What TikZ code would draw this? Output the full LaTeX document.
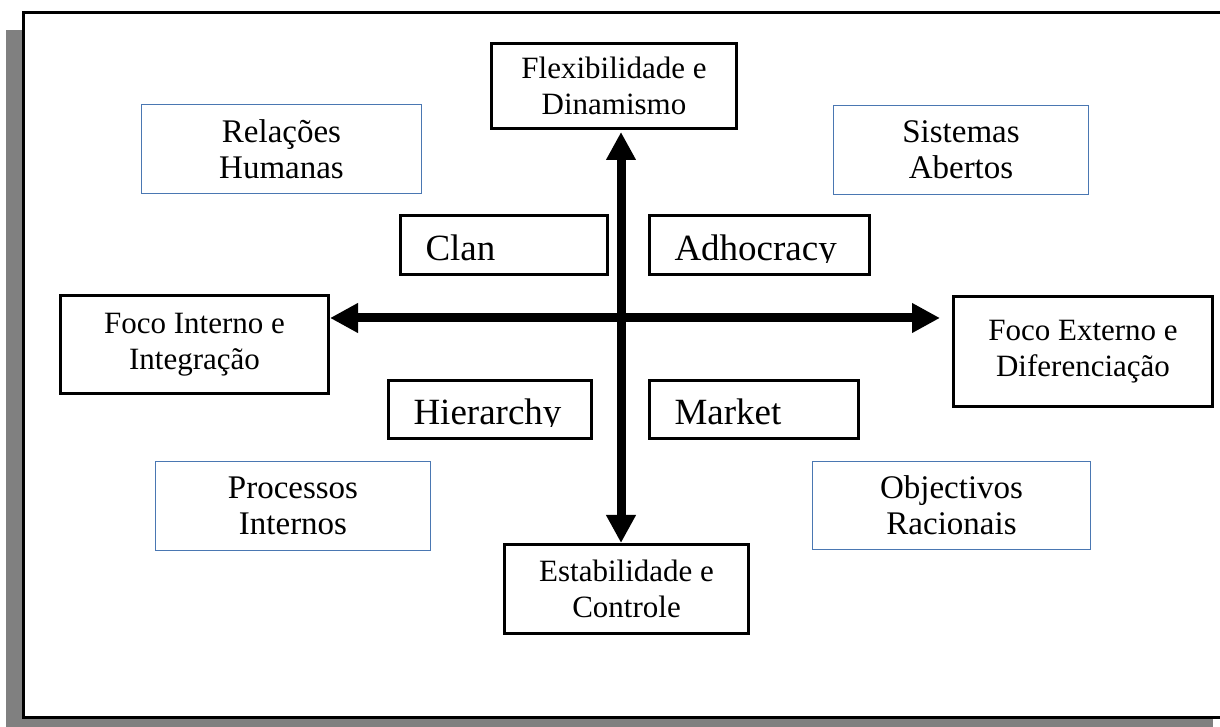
\documentclass[tikz,border=0pt]{standalone}
\usepackage{fontspec}
\setmainfont{Liberation Serif}
\usetikzlibrary{arrows.meta}

\definecolor{frameshadow}{RGB}{128,128,128}
\definecolor{schoolblue}{RGB}{74,119,178}

\tikzset{
  % boxes at the four ends of the axes
  pole/.style={draw=black, line width=3pt, fill=white, align=center,
    inner sep=0pt, font=\fontsize{31}{36}\selectfont},
  % thin blue boxes naming the four models
  school/.style={draw=schoolblue, line width=1.4pt, fill=white, align=center,
    inner sep=0pt, font=\fontsize{33}{36}\selectfont},
  % culture boxes: label set left, its lower part cut off
  culture/.style={draw=black, line width=3pt, fill=white, inner sep=0pt,
    path picture={
      \clip ([yshift=12pt]path picture bounding box.south west)
        rectangle (path picture bounding box.north east);
      \node[anchor=base west, inner sep=0pt, minimum width=0pt,
            minimum height=0pt, draw=none, fill=none,
            font=\fontsize{37}{40}\selectfont]
        at ([xshift=23.5pt,yshift=14pt]path picture bounding box.south west) {#1};
    }},
  axisline/.style={line width=9pt,
    {Triangle[length=28pt,width=28pt]}-{Triangle[length=28pt,width=28pt]}}
}

\begin{document}
\begin{tikzpicture}[x=1pt,y=1pt]
  \useasboundingbox (0,0) rectangle (1220,727);
  \clip (0,0) rectangle (1220,727);

  % page frame with its shadow
  \fill[frameshadow] (6,-8) rectangle (1213,697);
  \draw[line width=3pt, fill=white] (23,9) rectangle (1240,714);

  % axis ends
  \node[pole, minimum width=245pt, minimum height=85pt] (flex) at (614,641)
    {Flexibilidade e\\Dinamismo};
  \node[pole, minimum width=244pt, minimum height=89pt] (stab) at (626.5,138)
    {Estabilidade e\\Controle};
  \node[pole, minimum width=268pt, minimum height=98pt] (inner) at (194.5,382)
    {Foco Interno e\\Integração};
  \node[pole, minimum width=259pt, minimum height=110pt] (outer) at (1083,375.5)
    {Foco Externo e\\Diferenciação};

  % models
  \node[school, minimum width=280pt, minimum height=89pt] (rel) at (281.5,578)
    {Relações\\Humanas};
  \node[school, minimum width=255pt, minimum height=89pt] (sis) at (961,577)
    {Sistemas\\Abertos};
  \node[school, minimum width=275pt, minimum height=89pt] (proc) at (293,221)
    {Processos\\Internos};
  \node[school, minimum width=278pt, minimum height=88pt] (obj) at (951.5,221.5)
    {Objectivos\\Racionais};

  % cultures
  \node[culture=Clan, minimum width=207pt, minimum height=59pt] (clan) at (504,482) {};
  \node[culture=Adhocracy, minimum width=220pt, minimum height=59pt] (adh) at (759.5,482) {};
  \node[culture=Hierarchy, minimum width=203pt, minimum height=58pt] (hier) at (490,317.5) {};
  \node[culture=Market, minimum width=209pt, minimum height=58pt] (mkt) at (754,317.5) {};

  % the two axes
  \coordinate (centre) at (621,409);
  \draw[axisline, shorten <=2pt] (centre |- flex.south) -- (centre |- stab.north);
  \draw[axisline, shorten >=12pt] (inner.east |- centre) -- (outer.west |- centre);
\end{tikzpicture}
\end{document}
